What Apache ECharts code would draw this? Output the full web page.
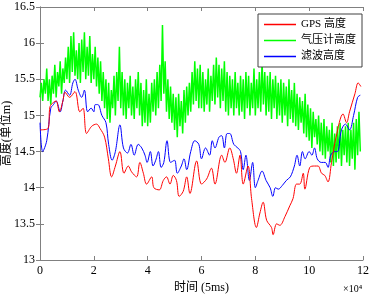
<!DOCTYPE html>
<html>
<head>
<meta charset="utf-8">
<script src="https://cdn.jsdelivr.net/npm/echarts@6/dist/echarts.min.js"></script>
<style>
  html, body { margin: 0; padding: 0; background: #fff; }
  #chart { width: 371px; height: 296px; }
</style>
</head>
<body>
<div id="chart"></div>
<script>
// time axis, units of 10^4 samples (5ms each)
const gpsT = [0, 0.3, 0.37, 0.5, 0.6, 0.72, 0.85, 0.93, 1.1, 1.3, 1.48, 1.6, 1.73, 1.92, 2.1, 2.23, 2.4, 2.54, 2.66, 2.8, 2.97, 3.12, 3.28, 3.4, 3.59, 3.71, 3.84, 3.96, 4.15, 4.23, 4.43, 4.58, 4.7, 4.83, 4.95, 5.07, 5.17, 5.32, 5.45, 5.57, 5.82, 6.0, 6.19, 6.37, 6.5, 6.75, 6.87, 7.05, 7.18, 7.3, 7.43, 7.55, 7.73, 7.86, 8.04, 8.17, 8.29, 8.42, 8.6, 8.66, 8.79, 8.91, 9.1, 9.28, 9.4, 9.53, 9.65, 9.78, 9.84, 10.02, 10.2, 10.33, 10.46, 10.58, 10.7, 10.83, 11.0, 11.26, 11.39, 11.5, 11.7, 11.82, 11.92]
const gpsH = [14.8, 14.82, 15.12, 15.18, 15.2, 15.05, 15.2, 15.32, 15.25, 15.33, 15.05, 15.1, 14.75, 14.85, 14.88, 14.82, 14.7, 14.4, 14.15, 14.3, 14.5, 14.2, 14.3, 14.22, 14.15, 14.35, 14.2, 14.05, 14.15, 14.0, 13.97, 14.1, 14.15, 14.05, 14.17, 14.1, 13.88, 13.95, 14.15, 13.92, 14.37, 14.05, 14.12, 14.27, 14.05, 14.45, 14.35, 14.55, 14.4, 14.2, 14.45, 14.05, 14.3, 13.85, 13.45, 13.65, 13.8, 13.55, 13.45, 13.35, 13.5, 13.48, 13.6, 13.75, 13.85, 14.05, 14.05, 14.2, 13.98, 14.28, 14.3, 14.3, 14.2, 14.17, 14.08, 14.35, 14.7, 15.02, 14.9, 15.05, 15.3, 15.45, 15.4]

const kalT = [0, 0.1, 0.25, 0.4, 0.5, 0.6, 0.75, 0.85, 0.95, 1.1, 1.22, 1.3, 1.42, 1.55, 1.65, 1.77, 1.9, 2.0, 2.05, 2.15, 2.3, 2.45, 2.55, 2.68, 2.8, 2.97, 3.1, 3.25, 3.38, 3.5, 3.65, 3.78, 3.9, 3.98, 4.1, 4.2, 4.3, 4.4, 4.5, 4.6, 4.72, 4.85, 5.0, 5.1, 5.25, 5.35, 5.45, 5.6, 5.75, 5.9, 6.0, 6.15, 6.3, 6.4, 6.5, 6.65, 6.75, 6.85, 6.95, 7.05, 7.2, 7.35, 7.45, 7.55, 7.65, 7.78, 7.9, 8.0, 8.1, 8.25, 8.4, 8.55, 8.65, 8.75, 8.85, 9.0, 9.15, 9.3, 9.45, 9.55, 9.65, 9.75, 9.85, 10.0, 10.1, 10.2, 10.3, 10.45, 10.6, 10.7, 10.8, 10.95, 11.05, 11.2, 11.35, 11.5, 11.65, 11.8, 11.9]
const kalH = [14.9, 14.5, 14.65, 15.1, 15.15, 15.2, 15.05, 15.2, 15.35, 15.28, 15.45, 15.5, 15.35, 15.25, 15.35, 15.05, 15.1, 15.05, 15.15, 15.15, 15.0, 14.9, 14.6, 14.38, 14.5, 14.87, 14.55, 14.48, 14.6, 14.45, 14.6, 14.55, 14.45, 14.35, 14.5, 14.3, 14.38, 14.5, 14.28, 14.35, 14.65, 14.35, 14.38, 14.2, 14.3, 14.4, 14.25, 14.5, 14.65, 14.6, 14.4, 14.55, 14.45, 14.65, 14.55, 14.7, 14.72, 14.55, 14.75, 14.75, 14.6, 14.55, 14.5, 14.25, 14.45, 14.1, 14.35, 14.0, 14.1, 14.23, 14.1, 14.0, 13.88, 14.0, 13.98, 14.03, 14.1, 14.15, 14.3, 14.45, 14.3, 14.5, 14.4, 14.5, 14.45, 14.55, 14.4, 14.35, 14.35, 14.28, 14.45, 14.5, 14.5, 14.8, 14.88, 14.8, 15.0, 15.25, 15.28]

// barometer samples, one every 0.05 (x10^4)
const baroStep = 0.05
const baroH = [
  15.25, 15.45, 15.2, 15.5, 15.3, 15.65, 15.2, 15.5, 15.15, 15.55,
  15.3, 15.7, 15.25, 15.6, 15.4, 15.75, 15.3, 15.65, 15.45, 15.8,
  15.5, 15.95, 15.45, 16.1, 15.6, 16.15, 15.55, 15.9, 15.5, 16.0,
  15.45, 16.05, 15.6, 16.15, 15.5, 15.95, 15.55, 16.1, 15.45, 15.85,
  15.5, 15.95, 15.4, 15.8, 15.3, 15.75, 15.2, 15.6, 15.1, 15.5,
  14.95, 15.45, 14.9, 15.35, 15.1, 15.55, 15.0, 15.6, 15.2, 15.95,
  15.1, 15.6, 15.0, 15.5, 14.95, 15.45, 15.1, 15.55, 15.0, 15.4,
  14.95, 15.5, 15.1, 15.6, 15.0, 15.45, 14.85, 15.35, 14.9, 15.5,
  14.85, 15.3, 14.9, 15.45, 15.05, 15.5, 15.0, 15.6, 15.1, 15.7,
  15.2, 16.25, 15.3, 15.75, 15.05, 15.5, 14.95, 15.4, 14.9, 15.3,
  14.8, 15.25, 14.7, 15.3, 14.85, 15.2, 14.75, 15.35, 14.9, 15.4,
  15.0, 15.45, 15.05, 15.6, 15.15, 15.75, 15.2, 15.65, 15.1, 15.7,
  15.1, 15.6, 15.05, 15.5, 15.15, 15.65, 15.05, 15.55, 15.2, 15.7,
  15.15, 15.8, 15.25, 15.7, 15.1, 15.65, 15.2, 15.75, 15.05, 15.6,
  15.0, 15.55, 15.1, 15.5, 15.0, 15.6, 15.1, 15.45, 15.0, 15.55,
  15.05, 15.5, 14.95, 15.6, 15.1, 15.55, 15.0, 15.45, 15.1, 15.65,
  15.0, 15.5, 15.1, 15.6, 15.05, 15.75, 15.15, 15.6, 15.0, 15.55,
  15.05, 15.6, 14.95, 15.5, 15.1, 15.55, 14.95, 15.45, 15.0, 15.5,
  14.9, 15.45, 15.0, 15.4, 14.85, 15.5, 14.95, 15.35, 14.9, 15.45,
  14.85, 15.3, 14.8, 15.25, 14.9, 15.2, 14.75, 15.3, 14.7, 15.15,
  14.65, 15.1, 14.55, 15.05, 14.7, 14.95, 14.6, 15.0, 14.5, 14.9,
  14.45, 14.95, 14.4, 14.85, 14.5, 14.8, 14.35, 14.9, 14.3, 14.75,
  14.35, 14.85, 14.4, 14.9, 14.3, 14.8, 14.45, 14.85, 14.35, 14.9,
  14.3, 14.8, 14.4, 14.9, 14.25, 14.95, 14.45, 15.05, 14.5
]

const xTicks = [0, 2, 4, 6, 8, 10, 12]
const names = ['GPS 高度', '气压计高度', '滤波高度']

const font = '"Liberation Serif", "Noto Sans CJK SC", serif'
const axisGray = '#808080'

const zip = (xs, ys) => xs.map((x, i) => [x, ys[i]])
const baroData = baroH.map((h, i) => [+(i * baroStep).toFixed(2), h])

const myChart = echarts.init(document.getElementById('chart'))

const axisCommon = {
  type: 'value',
  axisLine: { show: true, lineStyle: { color: axisGray, width: 1 } },
  axisTick: { show: true, inside: true, length: 4, lineStyle: { color: axisGray } },
  splitLine: { show: false }
}

myChart.setOption({
  animation: false,
  textStyle: { fontFamily: font },
  grid: { left: 40, right: 8, top: 7, bottom: 36, containLabel: false, outerBoundsMode: 'none' },
  legend: {
    data: names,
    orient: 'vertical',
    right: 9,
    top: 14,
    icon: 'rect',
    backgroundColor: '#fff',
    borderColor: '#404040',
    borderWidth: 1,
    borderRadius: 0,
    padding: [5, 6, 5, 6],
    itemGap: 5,
    itemWidth: 32,
    itemHeight: 1.5,
    textStyle: { fontFamily: font, fontSize: 11, color: '#000' }
  },
  xAxis: [
    Object.assign({}, axisCommon, {
      min: 0, max: 12, interval: 2,
      position: 'bottom',
      axisLabel: {
        color: '#000', fontSize: 12, margin: 5,
        formatter: v => xTicks.includes(v) ? String(v) : ''
      },
      name: '时间 (5ms)',
      nameLocation: 'middle',
      nameGap: 22,
      nameMoveOverlap: false,
      nameTextStyle: { color: '#000', fontSize: 12, fontFamily: font }
    }),
    Object.assign({}, axisCommon, {
      min: 0, max: 12, interval: 2,
      position: 'top',
      axisLabel: { show: false }
    })
  ],
  yAxis: [
    Object.assign({}, axisCommon, {
      min: 13, max: 16.5, interval: 0.5,
      position: 'left',
      axisLabel: { color: '#000', fontSize: 12, margin: 5 },
      name: '高度(单位m)',
      nameLocation: 'middle',
      nameGap: 27,
      nameMoveOverlap: false,
      nameTextStyle: { color: '#000', fontSize: 12, fontFamily: font }
    }),
    Object.assign({}, axisCommon, {
      min: 13, max: 16.5, interval: 0.5,
      position: 'right',
      axisLabel: { show: false }
    })
  ],
  graphic: [
    {
      type: 'text',
      left: 343,
      top: 284,
      style: { text: '×10⁴', fontFamily: font, fontSize: 10, fill: '#000' }
    }
  ],
  series: [
    {
      name: names[0], type: 'line', data: zip(gpsT, gpsH), z: 4,
      symbol: 'none', smooth: 0.35,
      lineStyle: { color: '#ff0000', width: 1 }, itemStyle: { color: '#ff0000' }
    },
    {
      name: names[1], type: 'line', data: baroData, z: 2,
      symbol: 'none',
      lineStyle: { color: '#00ff00', width: 1.5 }, itemStyle: { color: '#00ff00' }
    },
    {
      name: names[2], type: 'line', data: zip(kalT, kalH), z: 3,
      symbol: 'none', smooth: 0.35,
      lineStyle: { color: '#0000ff', width: 1 }, itemStyle: { color: '#0000ff' }
    }
  ]
})
</script>
</body>
</html>
